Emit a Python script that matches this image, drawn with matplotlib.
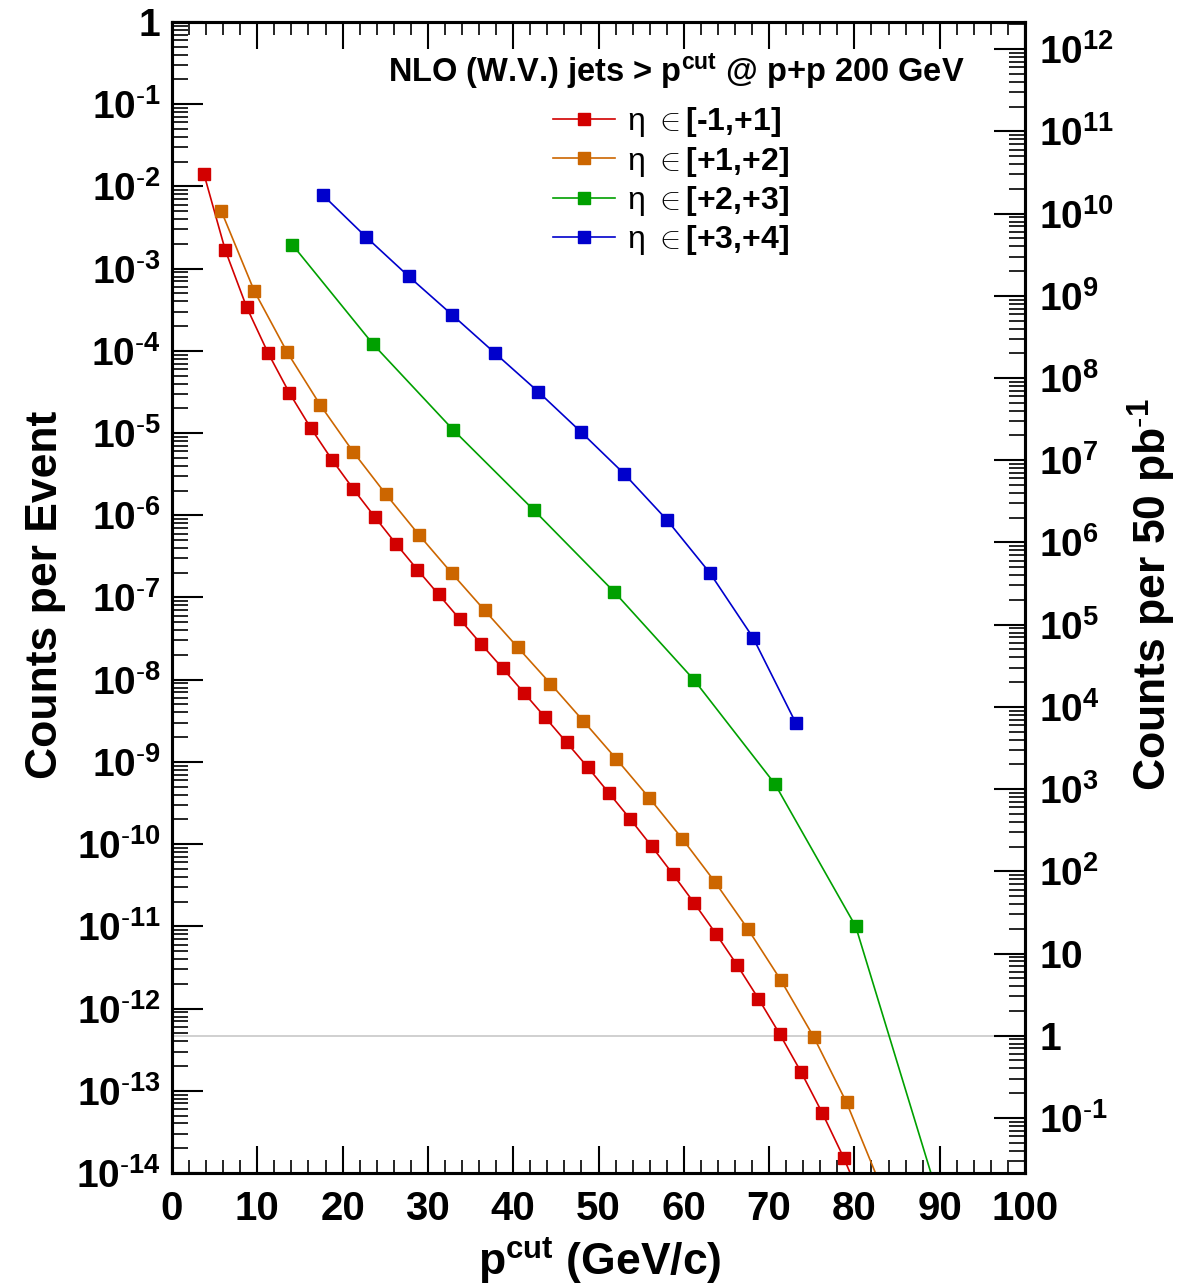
import numpy as np
import matplotlib
matplotlib.use("Agg")
import matplotlib.pyplot as plt
from matplotlib.ticker import FixedLocator, FuncFormatter, LogLocator, NullFormatter, MultipleLocator

plt.rcParams['font.family'] = ['Liberation Sans', 'DejaVu Sans']
plt.rcParams['font.weight'] = 'bold'
plt.rcParams['mathtext.fontset'] = 'custom'
plt.rcParams['mathtext.rm'] = 'Liberation Sans:weight=normal'
plt.rcParams['mathtext.bf'] = 'Liberation Sans:weight=bold'
plt.rcParams['mathtext.it'] = 'Liberation Sans:style=italic:weight=normal'

# ---------------- data ----------------
red_x = [3.75, 6.25, 8.75, 11.25, 13.75, 16.25, 18.75, 21.25, 23.75, 26.25,
         28.75, 31.25, 33.75, 36.25, 38.75, 41.25, 43.75, 46.25, 48.75, 51.25,
         53.75, 56.25, 58.75, 61.25, 63.75, 66.25, 68.75, 71.25, 73.75, 76.25,
         78.75, 81.25]
red_y = [1.41e-2, 1.67e-3, 3.40e-4, 9.47e-5, 3.09e-5, 1.16e-5, 4.75e-6, 2.09e-6,
         9.61e-7, 4.51e-7, 2.19e-7, 1.09e-7, 5.42e-8, 2.71e-8, 1.38e-8, 6.95e-9,
         3.48e-9, 1.73e-9, 8.59e-10, 4.15e-10, 2.00e-10, 9.37e-11, 4.28e-11,
         1.90e-11, 8.17e-12, 3.38e-12, 1.32e-12, 4.88e-13, 1.69e-13, 5.33e-14,
         1.53e-14, 3.7e-15]

orange_x = [5.79, 9.65, 13.50, 17.36, 21.22, 25.08, 28.93, 32.79, 36.65, 40.51,
            44.36, 48.22, 52.08, 55.94, 59.80, 63.65, 67.51, 71.37, 75.23, 79.08,
            82.94]
orange_y = [4.99e-3, 5.33e-4, 9.64e-5, 2.21e-5, 5.95e-6, 1.80e-6, 5.81e-7, 1.98e-7,
            6.98e-8, 2.49e-8, 8.97e-9, 3.15e-9, 1.09e-9, 3.66e-10, 1.17e-10,
            3.47e-11, 9.29e-12, 2.22e-12, 4.52e-13, 7.20e-14, 7.6e-15]

green_x = [14.10, 23.56, 32.98, 42.44, 51.84, 61.20, 70.69, 80.15, 89.56]
green_y = [1.96e-3, 1.21e-4, 1.09e-5, 1.15e-6, 1.17e-7, 9.95e-9, 5.38e-10,
           1.00e-11, 6.3e-15]

blue_x = [17.67, 22.71, 27.75, 32.83, 37.87, 42.91, 47.91, 52.99, 58.03, 63.07,
          68.11, 73.15]
blue_y = [7.88e-3, 2.45e-3, 8.05e-4, 2.75e-4, 9.37e-5, 3.20e-5, 1.04e-5, 3.21e-6,
          8.77e-7, 1.98e-7, 3.26e-8, 2.95e-9]

eta_ranges = ['[-1,+1]', '[+1,+2]', '[+2,+3]', '[+3,+4]']
labels = [r'$\mathrm{\eta}\ \in$' + r for r in eta_ranges]
colors = ['#d20000', '#cc6600', '#00a000', '#0000cc']

events_per_50pb = 2.14e12   # conversion between left and right axis

# ---------------- figure ----------------
fig = plt.figure(figsize=(11.97, 12.87), dpi=100)
ax = fig.add_axes([0.1437, 0.0886, 0.7126, 0.8943])

series = [(red_x, red_y), (orange_x, orange_y), (green_x, green_y), (blue_x, blue_y)]
handles = []
for (xs, ys), c, lab in zip(series, colors, labels):
    h, = ax.plot(xs, ys, color=c, lw=1.2, marker='s', ms=8.3, mfc=c, mec=c,
                 label=lab, clip_on=True)
    handles.append(h)

ax.axhline(1.0 / events_per_50pb, color='#c8c8c8', lw=1.2, zorder=0)

ax.set_xlim(0, 100)
ax.set_yscale('log')
ax.set_ylim(1e-14, 1)

ax.xaxis.set_major_locator(MultipleLocator(10))
ax.xaxis.set_minor_locator(MultipleLocator(2))
ax.yaxis.set_major_locator(FixedLocator([10.0 ** e for e in range(-14, 1)]))
ax.yaxis.set_minor_locator(LogLocator(base=10, subs=np.arange(2, 10), numticks=40))
ax.yaxis.set_minor_formatter(NullFormatter())


def exp_label(e):
    if e == 0:
        return r'$\mathbf{1}$'
    if e < 0:
        return r'$\mathbf{10^{\text{-}%d}}$' % (-e)
    return r'$\mathbf{10^{%d}}$' % e


def left_fmt(v, pos):
    return exp_label(int(round(np.log10(v))))


ax.yaxis.set_major_formatter(FuncFormatter(left_fmt))

for s in ax.spines.values():
    s.set_linewidth(2.2)

ax.tick_params(axis='y', which='major', direction='in', length=22, width=1.5,
               left=True, right=False, labelsize=28, pad=8)
ax.tick_params(axis='y', which='minor', direction='in', length=11.5, width=1.2,
               left=True, right=False)
ax.tick_params(axis='x', which='major', direction='in', length=19.4, width=1.5,
               top=True, bottom=True, labelsize=29, pad=12)
ax.tick_params(axis='x', which='minor', direction='in', length=9.7, width=1.2,
               top=True, bottom=True)
for t in ax.get_xticklabels():
    t.set_fontweight('bold')

# right axis
ax2 = ax.twinx()
ax2.set_yscale('log')
ax2.set_ylim(1e-14 * events_per_50pb, 1.0 * events_per_50pb)
ax2.yaxis.set_major_locator(FixedLocator([10.0 ** e for e in range(-1, 13)]))
ax2.yaxis.set_minor_locator(LogLocator(base=10, subs=np.arange(2, 10), numticks=40))
ax2.yaxis.set_minor_formatter(NullFormatter())


def right_fmt(v, pos):
    e = int(round(np.log10(v)))
    if e == 1:
        return r'$\mathbf{10}$'
    return exp_label(e)


ax2.yaxis.set_major_formatter(FuncFormatter(right_fmt))
ax2.tick_params(axis='y', which='major', direction='in', length=22, width=1.5,
                labelsize=28, pad=10)
ax2.tick_params(axis='y', which='minor', direction='in', length=11.5, width=1.2)
for s in ax2.spines.values():
    s.set_linewidth(2.2)

# titles
fig.text(0.0384, 0.5377, 'Counts per Event', rotation=90, ha='center', va='center',
         fontsize=32, fontweight='bold')
fig.text(0.9624, 0.5377, r'Counts per 50 pb$^{\mathbf{\text{-}1}}$', rotation=90,
         ha='center', va='center', fontsize=32, fontweight='bold')
fig.text(0.501, 0.0093, r'p$^{\mathbf{cut}}$ (GeV/c)', ha='center', va='baseline',
         fontsize=32, fontweight='bold')
fig.text(0.5652, 0.9363, r'NLO (W.V.) jets > p$^{\mathbf{cut}}$ @ p+p 200 GeV',
         ha='center', va='baseline', fontsize=23.5, fontweight='bold')

ax.legend(handles=handles, loc='upper left', bbox_to_anchor=(0.4467, 0.9278),
          frameon=False, fontsize=23, handlelength=1.95, handletextpad=0.35,
          labelspacing=0.17, borderpad=0, borderaxespad=0)

fig.savefig('out.png', dpi=100)
